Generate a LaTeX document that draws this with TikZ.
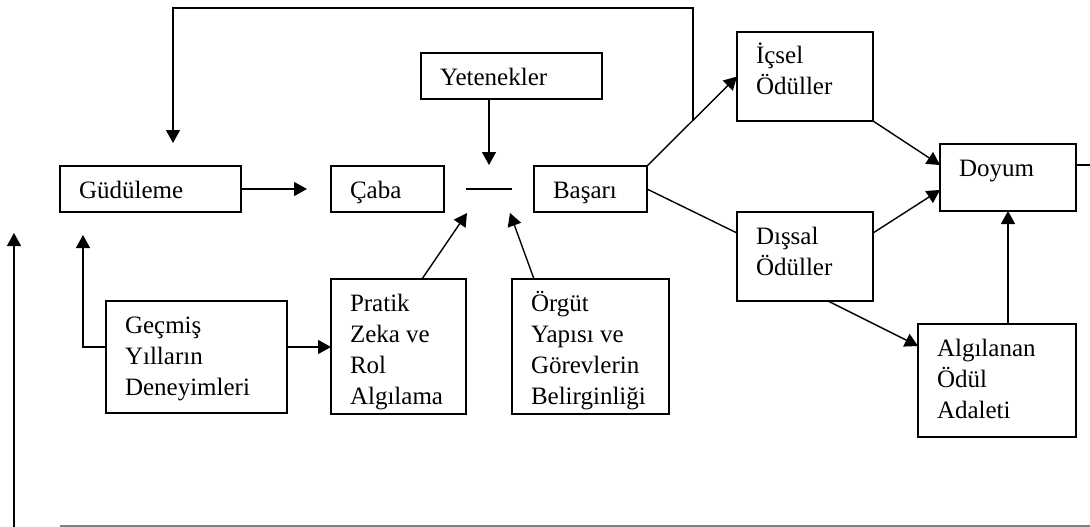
\documentclass[tikz,border=0pt]{standalone}
\usepackage{fontspec}
\setmainfont{Liberation Serif}
\usetikzlibrary{arrows.meta,calc}
\newcommand\mybox[6]{%
  \node[box, minimum width=#4pt, minimum height=#5pt, anchor=north west] (#1) at (#2,#3) {};
  \node[txt] (#1t) at ($(#1.north west)+(19,0)$) {\rule{0pt}{32pt}#6};
}
\begin{document}
\begin{tikzpicture}[x=1pt,y=-1pt,
  box/.style={draw, line width=1.2pt, inner sep=0pt, outer sep=0pt},
  txt/.style={anchor=north west, inner sep=0pt, outer sep=0pt, align=left, font=\fontsize{25}{31}\selectfont},
  conn/.style={line width=1.4pt},
  arr/.style={conn, -{Triangle[length=13pt,width=14pt]}},
  rule/.style={draw=gray, line width=1.2pt}]
\useasboundingbox (0,0) rectangle (1090,527);

\mybox{gud}{60}{166}{181}{46}{Güdüleme}
\mybox{caba}{331}{166}{113}{46}{Çaba}
\mybox{bas}{534}{166}{113}{46}{Başarı}
\mybox{yet}{421}{53}{181}{46}{Yetenekler}
\mybox{ics}{737}{32}{136}{89}{İçsel\\Ödüller}
\mybox{doy}{940}{144}{136}{67}{Doyum}
\mybox{dis}{737}{212}{136}{89}{Dışsal\\Ödüller}
\mybox{alg}{918}{324}{158}{113}{Algılanan\\Ödül\\Adaleti}
\mybox{gec}{106}{301}{181}{112}{Geçmiş\\Yılların\\Deneyimleri}
\mybox{prat}{331}{279}{135}{135}{Pratik\\Zeka ve\\Rol\\Algılama}
\mybox{org}{512}{279}{157}{135}{Örgüt\\Yapısı ve\\Görevlerin\\Belirginliği}

% the short dash between Caba and Basari
\coordinate (dashL) at (466,189);
\coordinate (dashR) at (512,189);
\coordinate (dashC) at (489,189);
\draw[conn] (dashL) -- (dashR);
\coordinate (tipP) at (467,213);
\coordinate (tipO) at (510,213);

% main chain
\draw[arr, shorten >=24pt] (gud.east) -- (caba.west);
\draw[arr, shorten >=24pt] ($(yet.south west)+(68,0)$) -- (dashC);
\draw[arr] ($(prat.north west)+(91,0)$) -- (tipP);
\draw[arr] ($(org.north west)+(22,0)$) -- (tipO);

% Basari to rewards
\draw[arr] (bas.north east) -- (ics.west);
\draw[conn] (bas.east) -- ($(dis.north west)+(0,21)$);

% feedback loop to Gudulema
\coordinate (fb) at (693,121);
\coordinate (fbtop) at (693,8);
\draw[arr] (fb) -- (fbtop) -| ($(gud.north west)+(113,-23)$);

% rewards to Doyum
\draw[arr] (ics.south east) -- ($(doy.north west)+(0,21)$);
\draw[arr] ($(dis.north east)+(0,21)$) -- ($(doy.north west)+(0,46)$);
\draw[arr] ($(dis.south west)+(91,0)$) -- ($(alg.north west)+(0,22)$);
\draw[arr] (alg.north -| doy.south) -- (doy.south);
\coordinate (doyout) at (1090,165);
\draw[conn] ($(doy.north east)+(0,21)$) -- (doyout);

% Gecmis links
\draw[arr] ($(gec.north west)+(0,46)$) -| ($(gud.south west)+(23,23)$);
\draw[arr] ($(gec.north east)+(0,46)$) -- (prat.west |- {$(gec.north east)+(0,46)$});

% left return arrow and bottom line
\coordinate (lb) at (14,527);
\coordinate (lt) at (14,233);
\draw[arr] (lb) -- (lt);
\coordinate (bl) at (60,526);
\coordinate (br) at (1090,526);
\draw[rule] (bl) -- (br);
\end{tikzpicture}
\end{document}
